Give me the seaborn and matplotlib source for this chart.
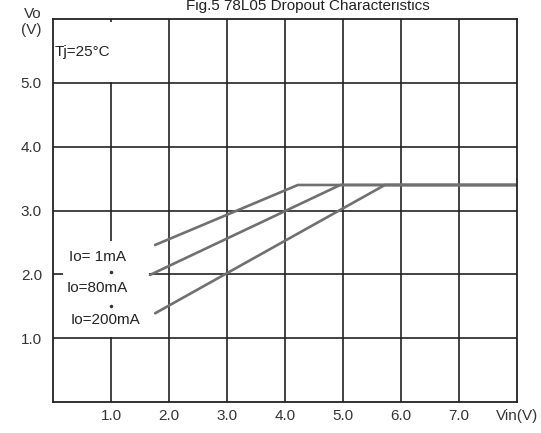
import matplotlib
matplotlib.use("Agg")
import matplotlib.pyplot as plt
from matplotlib.patches import Rectangle
import pandas as pd
import seaborn as sns

# Dropout curves: (Vin, Vo) breakpoints for each load current
vin_1ma = [1.76, 4.22, 8.0]
vo_1ma = [2.46, 3.40, 3.40]
vin_80ma = [1.67, 4.95, 8.0]
vo_80ma = [1.99, 3.40, 3.40]
vin_200ma = [1.76, 5.72, 8.0]
vo_200ma = [1.39, 3.40, 3.40]
series_names = ["Io= 1mA", "Io=80mA", "Io=200mA"]

x_ticks = [1, 2, 3, 4, 5, 6, 7, 8]
x_tick_labels = ["1.0", "2.0", "3.0", "4.0", "5.0", "6.0", "7.0", "Vin(V)"]
y_ticks = [1, 2, 3, 4, 5, 6]
y_tick_labels = ["1.0", "2.0", "3.0", "4.0", "5.0", "Vo\n(V)"]

frames = []
for name, xs, ys in zip(series_names,
                        [vin_1ma, vin_80ma, vin_200ma],
                        [vo_1ma, vo_80ma, vo_200ma]):
    frames.append(pd.DataFrame({"Vin": xs, "Vo": ys, "Io": name}))
df = pd.concat(frames, ignore_index=True)

sns.set_style("white")
plt.rcParams["font.family"] = ["Liberation Sans", "DejaVu Sans"]

fig = plt.figure(figsize=(5.41, 4.33), dpi=100)
ax = fig.add_axes([0.098, 0.0716, 0.858, 0.8845])

ax.set_xlim(0, 8)
ax.set_ylim(0, 6)

# grid
for xv in x_ticks[:-1]:
    ax.axvline(xv, color="#222222", lw=1.2, zorder=1)
for yv in y_ticks[:-1]:
    ax.axhline(yv, color="#222222", lw=1.2, zorder=1)

# white backgrounds behind the annotations
ax.add_patch(Rectangle((0.02, 5.02), 1.4, 0.93, facecolor="white",
                       edgecolor="none", zorder=2))
ax.add_patch(Rectangle((0.17, 1.02), 1.48, 1.51, facecolor="white",
                       edgecolor="none", zorder=2))

sns.lineplot(data=df, x="Vin", y="Vo", units="Io", estimator=None,
             color="#707070", lw=1.9, ax=ax, legend=False, zorder=3,
             sort=False)

for s in ax.spines.values():
    s.set_color("#222222")
    s.set_linewidth(1.3)
    s.set_zorder(4)

ax.set_xticks(x_ticks)
ax.set_xticklabels(x_tick_labels)
ax.set_yticks(y_ticks)
ax.set_yticklabels(y_tick_labels)
ax.tick_params(axis="both", length=0, labelsize=11, colors="#333333")
ax.tick_params(axis="x", pad=5)
ax.tick_params(axis="y", pad=8)
for lbl in ax.get_yticklabels():
    lbl.set_linespacing(1.25)
ax.set_xlabel("")
ax.set_ylabel("")

ax.text(0.03, 5.48, "Tj=25°C", fontsize=11, color="#222222",
        ha="left", va="center", zorder=5)

label_pos = [(0.76, 2.27), (0.76, 1.78), (0.91, 1.28)]
for name, (lx, ly) in zip(series_names, label_pos):
    ax.text(lx, ly, name, fontsize=11, color="#222222",
            ha="center", va="center", zorder=5)
ax.plot([1.0, 1.0], [2.03, 1.50], ls="none", marker="o", ms=1.5,
        color="#333333", zorder=5)

fig.text(0.57, 0.978, "Fig.5 78L05 Dropout Characteristics", fontsize=11,
         color="#222222", ha="center", va="baseline")

fig.savefig("out.png", dpi=100, facecolor="white")
